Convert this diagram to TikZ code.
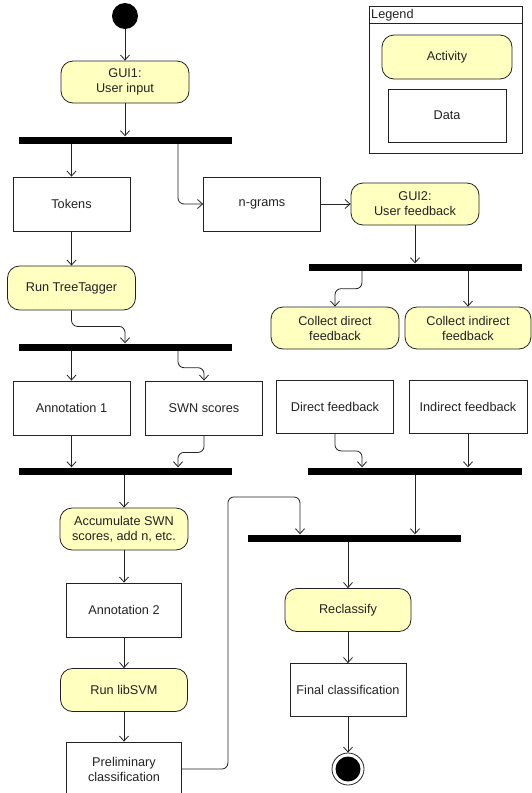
\documentclass[tikz,border=0pt]{standalone}
\usepackage{fontspec}
\setmainfont{Liberation Sans}
\usepackage{tikz}
\usetikzlibrary{arrows.meta, calc}
\definecolor{actfill}{HTML}{FFFFC0}
\definecolor{ink}{HTML}{222222}

\begin{document}
\begin{tikzpicture}[x=1pt, y=-1pt, font=\fontsize{12.7}{15}\selectfont, text=ink]
    \tikzstyle{act}   = [rectangle, rounded corners=12pt, minimum width=128pt, minimum height=42pt, text centered, align=center, draw=ink, fill=actfill, line width=0.8pt]
    \tikzstyle{data}  = [rectangle, minimum width=117pt, minimum height=54pt, text centered, align=center, draw=ink, line width=0.8pt]
    \tikzstyle{bar}   = [rectangle, fill=black, minimum width=213pt, minimum height=7pt, inner sep=0pt]
    \tikzstyle{arrow} = [draw=ink, line width=0.8pt, ->, >={Straight Barb[length=5pt, width=9pt]}, rounded corners=6pt]
    \useasboundingbox (0,0) rectangle (532,793);
    \node (s) [circle, fill=black, minimum size=26pt, inner sep=0pt] at (125,16) {};
    \node (a) [act] at (125,82) {GUI1:\\User input};
    \node (f1) [bar] at (125,140) {};
    \node (b) [data] at (71.5,204) {Tokens};
    \node (c) [data] at (262,204) {n-grams};
    \node (d) [act] at (415,204) {GUI2:\\User feedback};
    \node (f2) [bar] at (415,267) {};
    \node (e) [act] at (335,328) {Collect direct\\feedback};
    \node (g) [act, minimum width=126pt] at (468,328) {Collect indirect\\feedback};
    \node (h) [act, minimum height=44pt] at (71.5,288) {Run TreeTagger};
    \node (f3) [bar] at (125,347) {};
    \node (i) [data] at (71.5,408) {Annotation 1};
    \node (j) [data] at (204,408) {SWN scores};
    \node (k) [data, minimum height=53pt] at (335,407) {Direct feedback};
    \node (l) [data, minimum height=53pt, minimum width=118pt] at (468,407) {Indirect feedback};
    \node (f4) [bar] at (125,471) {};
    \node (f5) [bar, minimum width=214pt] at (415,471) {};
    \node (f6) [bar] at (354.5,538) {};
    \node (m) [act] at (124,529) {Accumulate SWN\\scores, add n, etc.};
    \node (n) [data, minimum width=115pt] at (124,610) {Annotation 2};
    \node (o) [act, minimum width=127pt, minimum height=43pt] at (124,690) {Run libSVM};
    \node (p) [data, minimum width=115pt] at (124,769) {Preliminary\\classification};
    \node (q) [act, minimum width=126pt, minimum height=43pt] at (348,610) {Reclassify};
    \node (r) [data, minimum width=116pt, minimum height=53pt] at (348,690) {Final classification};
    \node (t) [circle, draw=ink, line width=0.8pt, minimum size=32pt, inner sep=0pt,
        path picture={\fill (path picture bounding box.center) circle (12.5pt);}] at (348,769) {};
    \node (lg) [rectangle, draw=ink, line width=0.8pt, minimum width=153pt, minimum height=147pt] at (445.5,79.5) {};
    \draw[draw=ink, line width=0.8pt] ([yshift=-18pt]lg.north west) -- ([yshift=-18pt]lg.north east);
    \node (lt) [anchor=west, inner sep=1pt] at (370,15) {Legend};
    \node (la) [act, minimum width=130pt, minimum height=44pt] at (447,57) {Activity};
    \node (ld) [data, minimum width=118pt, minimum height=53pt] at (447,115.5) {Data};
    \draw[arrow] (s) -- (a);
    \draw[arrow] (a) -- (f1);
    \draw[arrow] (f1.south -| b) -- (b);
    \draw[arrow] ([xshift=53pt]f1.south) |- (c);
    \draw[arrow] (c) -- (d);
    \draw[arrow] (d) -- (d |- f2.north);
    \draw[arrow] ([xshift=-53pt]f2.south) -- ++(0,18) -| (e);
    \draw[arrow] (f2.south -| g) -- (g);
    \draw[arrow] (b) -- (h);
    \draw[arrow] (h.south) -- ++(0,16) -| (f3.north);
    \draw[arrow] (f3.south -| i) -- (i);
    \draw[arrow] ([xshift=53pt]f3.south) -- ++(0,17) -| (j);
    \draw[arrow] (i) -- (i |- f4.north);
    \draw[arrow] (j.south) -- ++(0,17) -| ([xshift=53pt]f4.north);
    \draw[arrow] (k.south) -- ++(0,17) -| ([xshift=-53pt]f5.north);
    \draw[arrow] (l) -- (l |- f5.north);
    \draw[arrow] (f4.south -| m) -- (m);
    \draw[arrow] (f5.south) -- (f5.south |- f6.north);
    \draw[arrow] (m) -- (n);
    \draw[arrow] (n) -- (o);
    \draw[arrow] (o) -- (p);
    \draw[arrow] (p.east) -- ++(46,0) -- ++(0,-272) -| ([xshift=-54.5pt]f6.north);
    \draw[arrow] (f6.south -| q) -- (q);
    \draw[arrow] (q) -- (r);
    \draw[arrow] (r) -- (t);
\end{tikzpicture}
\end{document}
